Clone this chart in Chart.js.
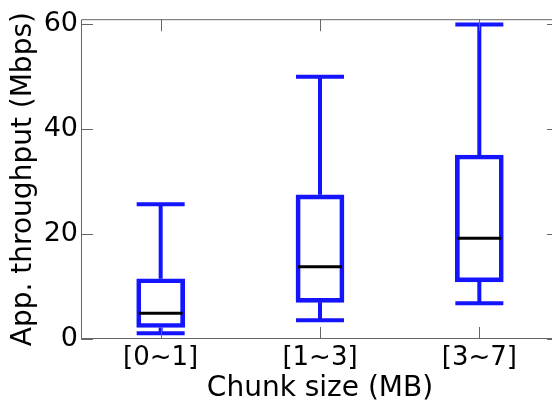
<!DOCTYPE html>
<html>
<head>
<meta charset="utf-8">
<script src="https://cdn.jsdelivr.net/npm/chart.js@4"></script>
<style>
  html, body { margin: 0; padding: 0; background: #fff; overflow: hidden; }
  #wrap { width: 559px; height: 406px; }
</style>
</head>
<body>
<div id="wrap"><canvas id="grafico"></canvas></div>
<script>
// categorias (tamanho do chunk)
var categories = ['[0~1]', '[1~3]', '[3~7]'];

// valores do boxplot (Mbps)
var whiskerLow  = [1.1, 3.6, 6.8];
var q1          = [2.2, 7.0, 10.9];
var median      = [4.9, 13.8, 19.2];
var q3          = [11.5, 27.5, 35.1];
var whiskerHigh = [25.7, 50, 60];

// marcas do eixo y
var yTicks = [0, 20, 40, 60];

var blue = 'rgb(20, 20, 255)';
var frameColor = '#666';

// caixas como barras flutuantes
var boxes = categories.map(function (c, i) { return [q1[i], q3[i]]; });

// bigodes, medianas e moldura com marcas internas
var boxPlugin = {
    id: 'boxPlugin',
    afterDatasetsDraw: function (chart) {
        var ctx = chart.ctx;
        var xs = chart.scales.x, ys = chart.scales.y;
        var meta = chart.getDatasetMeta(0);
        ctx.save();
        for (var i = 0; i < categories.length; i++) {
            var x = xs.getPixelForValue(i);
            var hw = meta.data[i].width / 2 - 2;
            ctx.strokeStyle = blue;
            ctx.lineWidth = 4;
            ctx.beginPath();
            ctx.moveTo(x, ys.getPixelForValue(q3[i]));
            ctx.lineTo(x, ys.getPixelForValue(whiskerHigh[i]));
            ctx.moveTo(x, ys.getPixelForValue(q1[i]));
            ctx.lineTo(x, ys.getPixelForValue(whiskerLow[i]));
            ctx.moveTo(x - hw - 2, ys.getPixelForValue(whiskerHigh[i]));
            ctx.lineTo(x + hw + 2, ys.getPixelForValue(whiskerHigh[i]));
            ctx.moveTo(x - hw - 2, ys.getPixelForValue(whiskerLow[i]));
            ctx.lineTo(x + hw + 2, ys.getPixelForValue(whiskerLow[i]));
            ctx.stroke();
            ctx.strokeStyle = '#000';
            ctx.lineWidth = 3;
            ctx.beginPath();
            ctx.moveTo(x - hw, ys.getPixelForValue(median[i]));
            ctx.lineTo(x + hw, ys.getPixelForValue(median[i]));
            ctx.stroke();
        }
        var a = chart.chartArea;
        ctx.strokeStyle = frameColor;
        ctx.lineWidth = 1;
        ctx.beginPath();
        ctx.rect(a.left + 0.5, a.top + 0.5, a.right - a.left - 1, a.bottom - a.top - 1);
        yTicks.forEach(function (v) {
            var y = Math.round(ys.getPixelForValue(v)) + 0.5;
            ctx.moveTo(a.left, y); ctx.lineTo(a.left + 12, y);
            ctx.moveTo(a.right, y); ctx.lineTo(a.right - 12, y);
        });
        categories.forEach(function (c, i) {
            var x = Math.round(xs.getPixelForValue(i)) + 0.5;
            ctx.moveTo(x, a.bottom); ctx.lineTo(x, a.bottom - 12);
            ctx.moveTo(x, a.top); ctx.lineTo(x, a.top + 12);
        });
        ctx.stroke();
        ctx.restore();
    }
};

var ctx = document.querySelector('#grafico').getContext('2d');
var boxChart = new Chart(ctx, {
    type: 'bar',
    data: {
        labels: categories,
        datasets: [{
            data: boxes,
            backgroundColor: 'rgba(0,0,0,0)',
            borderColor: blue,
            borderWidth: 4,
            borderSkipped: false,
            barThickness: 48
        }]
    },
    options: {
        responsive: true,
        maintainAspectRatio: false,
        animation: false,
        events: [],
        layout: { padding: { top: 17, right: 0, bottom: 0, left: 0 } },
        plugins: { legend: { display: false }, tooltip: { enabled: false } },
        scales: {
            x: {
                grid: { display: false, drawTicks: false },
                border: { display: false },
                ticks: { color: '#000', padding: 4, font: { family: 'DejaVu Sans', size: 26 } },
                title: {
                    display: true,
                    text: 'Chunk size (MB)',
                    color: '#000',
                    padding: { top: 0, bottom: 0 },
                    font: { family: 'DejaVu Sans', size: 28 }
                },
                afterFit: function (s) { s.height = 67; }
            },
            y: {
                min: 0,
                max: 61,
                grid: { display: false, drawTicks: false },
                border: { display: false },
                afterBuildTicks: function (s) {
                    s.ticks = yTicks.map(function (v) { return { value: v }; });
                },
                ticks: { color: '#000', padding: 3, font: { family: 'DejaVu Sans', size: 27 } },
                title: {
                    display: true,
                    text: 'App. throughput (Mbps)',
                    color: '#000',
                    padding: { top: 7, bottom: 0 },
                    font: { family: 'DejaVu Sans', size: 28 }
                },
                afterFit: function (s) { s.width = 81; }
            }
        }
    },
    plugins: [boxPlugin]
});
</script>
</body>
</html>
